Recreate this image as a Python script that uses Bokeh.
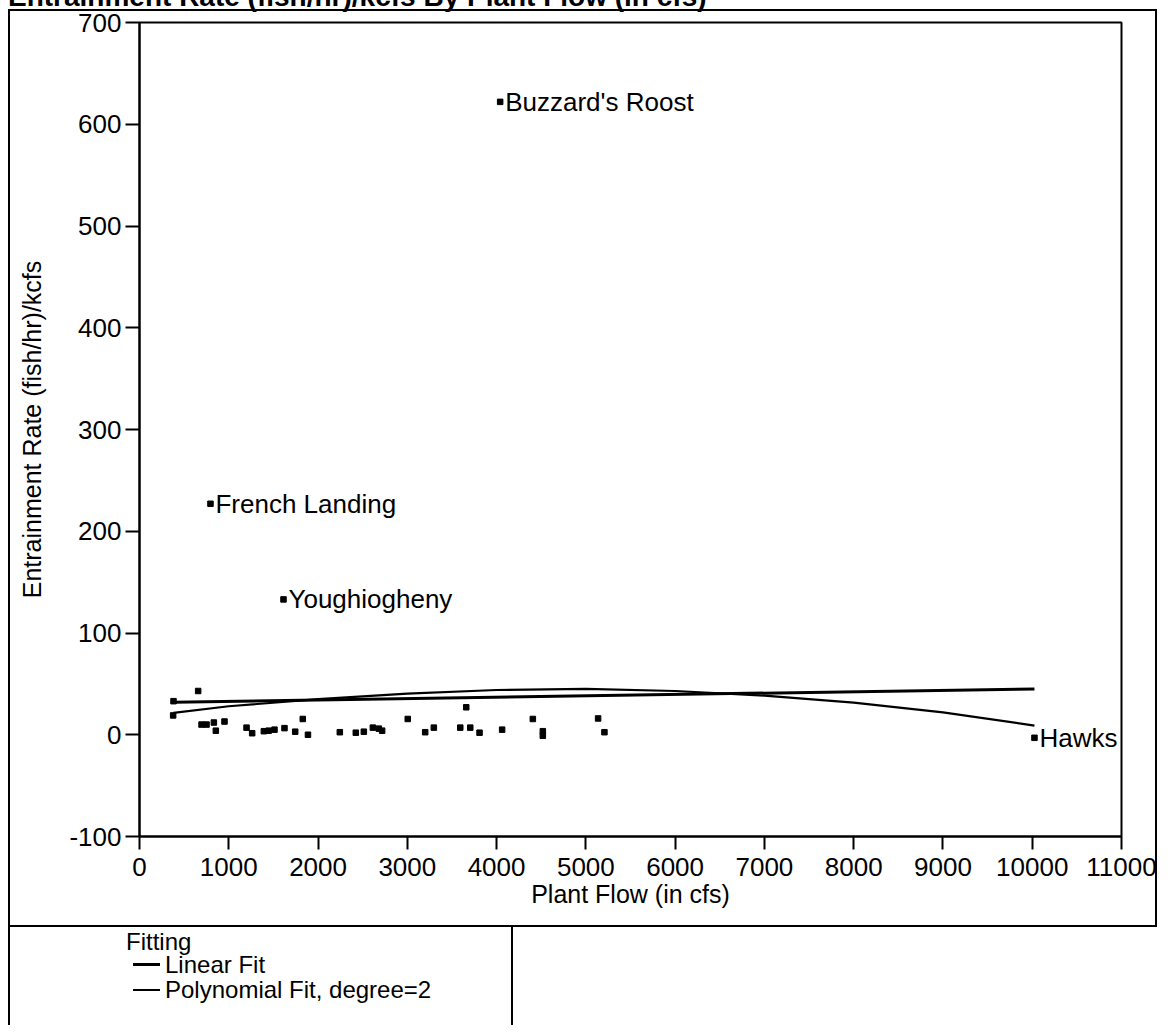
from bokeh.plotting import figure
from bokeh.layouts import column
from bokeh.models import FixedTicker, ColumnDataSource, Range1d, Div
from bokeh.embed import file_html
from bokeh.resources import INLINE
from bokeh.core.properties import value

# ---------------- data ----------------
plant_flow = [377, 381, 657, 695, 751, 833, 855, 952, 1199, 1262, 1393, 1447, 1512,
              1624, 1744, 1829, 1887, 2244, 2423, 2513, 2614, 2681, 2718, 3005, 3200,
              3297, 3593, 3660, 3705, 3809, 4062, 4406, 4518, 4518, 5137, 5208]
entrainment = [19, 33, 43, 10, 10, 12, 4, 13, 7, 1.5, 3.5, 4, 5,
               6.5, 3, 15.5, 0, 2.5, 2, 3, 7, 6, 4, 15.5, 2.5,
               7, 7, 27, 7, 2, 5, 15.5, 3.5, -1, 16, 2.5]

named_sites = ["Buzzard's Roost", "French Landing", "Youghiogheny", "Hawks"]
named_flow = [4040, 795, 1613, 10025]
named_rate = [622, 227, 133, -3]

linear_fit_x = [380, 10025]
linear_fit_y = [32, 45]
poly_fit_x = [380, 1000, 2000, 3000, 4000, 5000, 6000, 7000, 8000, 9000, 10025]
poly_fit_y = [21.5, 28, 35, 40.5, 44, 45, 43, 38.5, 31.5, 22, 9]

x_ticks = [0, 1000, 2000, 3000, 4000, 5000, 6000, 7000, 8000, 9000, 10000, 11000]
y_ticks = [-100, 0, 100, 200, 300, 400, 500, 600, 700]

title_text = "Entrainment Rate (fish/hr)/kcfs By Plant Flow (in cfs)"
x_label = "Plant Flow (in cfs)"
y_label = "Entrainment Rate (fish/hr)/kcfs"
legend_title = "Fitting"
legend_items = ["Linear Fit", "Polynomial Fit, degree=2"]
legend_line_widths = [3, 2]

FONT = "Liberation Sans"

# ---------------- title (cut off at the top, as in the reference) ----------------
title_div = Div(
    text=('<div style="font-family:\'Liberation Sans\';font-weight:bold;font-size:28px;'
          'line-height:28px;padding-top:10px;white-space:nowrap;color:black">'
          + title_text + '</div>'),
    width=1150, height=30, margin=(-27, 0, 0, 0))

# ---------------- main plot ----------------
# outer box drawn as background lines of the figure host (top line 6px below host top)
box_bg = ("linear-gradient(#000,#000) 0 6px / 100% 2px no-repeat, "
          "linear-gradient(#000,#000) 0 6px / 2px calc(100% - 6px) no-repeat, "
          "linear-gradient(#000,#000) 100% 6px / 2px calc(100% - 6px) no-repeat, "
          "linear-gradient(#000,#000) 0 100% / 100% 2px no-repeat")

p = figure(width=1149, height=924,
           x_range=Range1d(0, 11000), y_range=Range1d(-100, 700),
           output_backend="svg", toolbar_location=None,
           min_border_left=131, min_border_right=36,
           min_border_top=19, min_border_bottom=91,
           margin=(0, 0, 0, 0),
           styles={"background": box_bg})

p.xgrid.visible = False
p.ygrid.visible = False
p.outline_line_color = "black"
p.outline_line_width = 2
p.background_fill_color = "white"
p.border_fill_color = None

for ax in (p.xaxis[0], p.yaxis[0]):
    ax.axis_line_width = 2
    ax.axis_line_color = "black"
    ax.major_tick_line_width = 2
    ax.major_tick_line_color = "black"
    ax.major_tick_in = 0
    ax.minor_tick_line_color = None
    ax.major_label_text_font = FONT
    ax.major_label_text_color = "black"
    ax.axis_label_text_font = FONT
    ax.axis_label_text_font_style = "normal"
    ax.axis_label_text_color = "black"

p.xaxis.ticker = FixedTicker(ticks=x_ticks)
p.yaxis.ticker = FixedTicker(ticks=y_ticks)
p.yaxis.major_label_overrides = {-100: "-100"}
p.xaxis.major_tick_out = 13
p.yaxis.major_tick_out = 14
p.xaxis.major_label_text_font_size = "26px"
p.yaxis.major_label_text_font_size = "26px"
p.xaxis.major_label_standoff = 8
p.yaxis.major_label_standoff = 4
p.xaxis.axis_label = x_label
p.yaxis.axis_label = y_label
p.xaxis.axis_label_text_font_size = "25px"
p.yaxis.axis_label_text_font_size = "25px"
p.xaxis.axis_label_standoff = 1
p.yaxis.axis_label_standoff = 20

# fits
p.line(linear_fit_x, linear_fit_y, line_color="black", line_width=3)
p.line(poly_fit_x, poly_fit_y, line_color="black", line_width=2.2)

# points
p.scatter(plant_flow, entrainment, marker="square", size=5.5, color="black")
src = ColumnDataSource(dict(x=named_flow, y=named_rate, name=named_sites))
p.scatter("x", "y", source=src, marker="square", size=5.5, color="black")
p.text("x", "y", text="name", source=src, x_offset=5, text_baseline="middle",
       text_align="left", text_font=value(FONT), text_font_size="26px", text_color="black")

# ---------------- legend panel ----------------
rows = ['<div style="position:absolute;left:116px;top:4px;line-height:22px;'
        'white-space:nowrap">' + legend_title + '</div>']
for i, (t, lw) in enumerate(zip(legend_items, legend_line_widths)):
    cy = 38 + 25 * i
    rows.append('<div style="position:absolute;left:123px;top:%dpx;width:27px;height:%dpx;'
                'background:black"></div>' % (cy - (lw + 1) // 2, lw))
    rows.append('<div style="position:absolute;left:155px;top:%dpx;line-height:22px;'
                'white-space:nowrap">%s</div>' % (cy - 11, t))
legend_html = ('<div style="position:relative;width:500px;height:98px;overflow:hidden;'
               'font-family:\'Liberation Sans\';font-size:24px;color:black">'
               + "".join(rows) + '</div>')
legend_div = Div(text=legend_html, width=505, height=98, margin=(0, 0, 0, 0),
                 styles={"border-left": "2px solid black",
                         "border-right": "2px solid black",
                         "background": "white"})

layout = column(title_div, p, legend_div, spacing=0, margin=(0, 0, 0, 8))
open("out.html", "w").write(file_html(layout, INLINE))
